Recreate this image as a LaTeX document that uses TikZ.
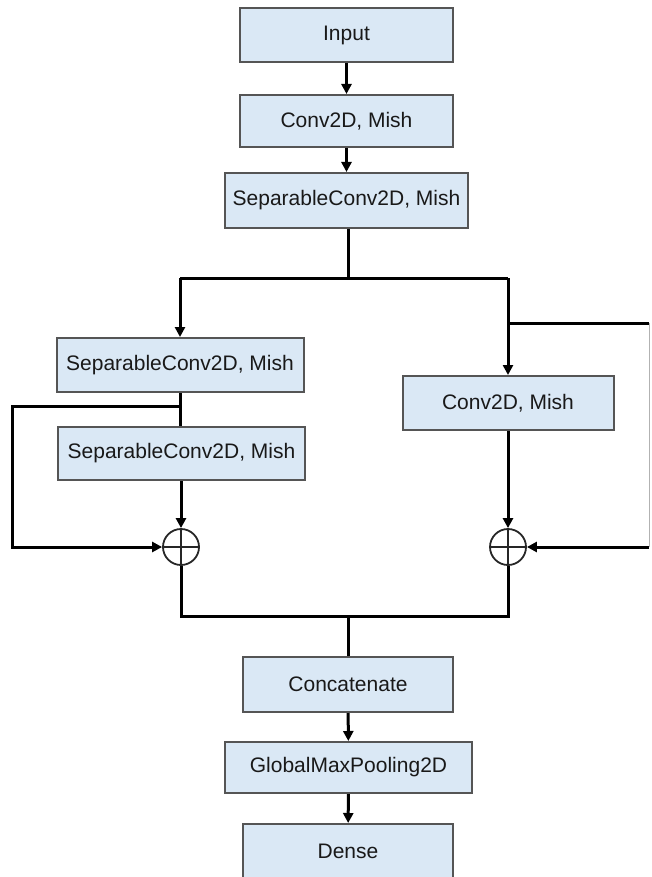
\documentclass[tikz,border=0pt]{standalone}
\usepackage{fontspec}
\setmainfont{Liberation Sans}
\usetikzlibrary{arrows.meta}
\definecolor{boxfill}{HTML}{DAE8F5}
\definecolor{boxline}{HTML}{555555}
\begin{document}
\begin{tikzpicture}[x=1pt,y=-1pt,
  layer/.style={draw=boxline,line width=2pt,fill=boxfill,minimum height=54pt,inner sep=0pt,font=\fontsize{21}{25}\selectfont,text=black!90},
  conn/.style={line width=3pt,black},
  arr/.style={conn,-{Triangle[length=10pt,width=10pt]}},
  addop/.style={circle,draw=black!85,line width=1.8pt,minimum size=36pt,inner sep=0pt}]
\useasboundingbox (0,0) rectangle (651,877);
\clip (0,0) rectangle (651,877);
\node[layer,minimum width=213pt] (in) at (346.5,35.5) {Input};
\node[layer,minimum width=213pt,minimum height=52pt] (c1) at (346.5,121) {Conv2D, Mish};
\node[layer,minimum width=243pt,minimum height=55pt] (s1) at (346.5,200.5) {SeparableConv2D, Mish};
\node[layer,minimum width=247pt] (ls1) at (180,365) {SeparableConv2D, Mish};
\node[layer,minimum width=247pt,minimum height=53pt] (ls2) at (181.5,453.5) {SeparableConv2D, Mish};
\node[layer,minimum width=211pt] (rc) at (508,403) {Conv2D, Mish};
\node[addop] (p1) at (181,547) {};
\node[addop] (p2) at (508,547) {};
\draw[line width=1.8pt,black!85] (p1.north) -- (p1.south) (p1.west) -- (p1.east);
\draw[line width=1.8pt,black!85] (p2.north) -- (p2.south) (p2.west) -- (p2.east);
\node[layer,minimum width=210pt,minimum height=55pt] (cat) at (348,684.5) {Concatenate};
\node[layer,minimum width=247pt,minimum height=51pt] (gmp) at (348.5,767.5) {GlobalMaxPooling2D};
\node[layer,minimum width=210pt,minimum height=55pt] (dense) at (348,851.5) {Dense};
\coordinate (split) at (348,278);
\coordinate (sl) at (180,278);
\coordinate (sr) at (508,278);
\coordinate (lb) at (180,406);
\coordinate (lbl) at (12,406);
\coordinate (lbb) at (12,547);
\coordinate (rb) at (508,323);
\coordinate (rbr) at (649,323);
\coordinate (rbb) at (649,547);
\coordinate (ml) at (181,616);
\coordinate (mr) at (508,616);
\coordinate (mj) at (348,616);
\draw[arr] (in) -- (c1);
\draw[arr] (c1) -- (s1);
\draw[conn] (s1.south -| split) -- (split);
\draw[conn] (sl) -- (sr);
\draw[arr] (sl) -- (ls1.north -| sl);
\draw[arr] (sr) -- (rc.north -| sr);
\draw[conn] (ls1.south -| lb) -- (ls2.north -| lb);
\draw[arr] (lb) -- (lbl) -- (lbb) -- (p1.west);
\draw[arr] (ls2.south -| p1) -- (p1.north);
\draw[conn] (rb) -- (rbr);
\draw[line width=1pt,black!30] (rbr) -- (rbb);
\draw[arr] (rbb) -- (p2.east);
\draw[arr] (rc) -- (p2.north);
\draw[conn] (p1.south) -- (ml) -- (mr) -- (p2.south);
\draw[conn] (mj) -- (cat.north -| mj);
\draw[arr] (cat) -- (gmp);
\draw[arr] (gmp) -- (dense);
\end{tikzpicture}
\end{document}
